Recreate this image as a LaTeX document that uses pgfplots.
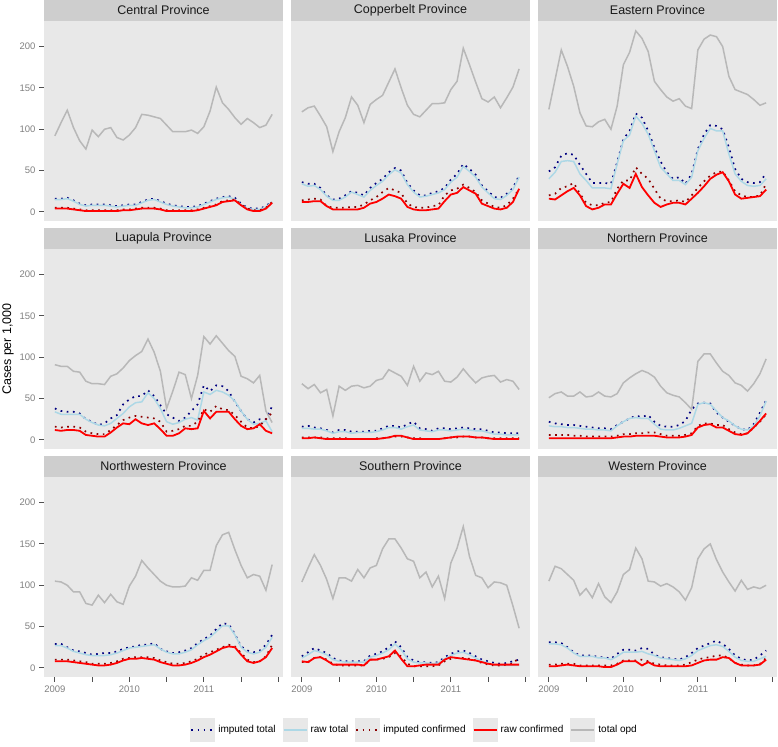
\documentclass[border=0pt]{standalone}
\usepackage{pgfplots}
\usepackage{pgfplotstable}
\pgfplotsset{compat=1.18}
\usepackage{fontspec}
\setmainfont{Liberation Sans}
\definecolor{panelbg}{RGB}{232,232,232}
\definecolor{stripbg}{RGB}{206,206,206}
\definecolor{tickc}{RGB}{80,80,80}
\definecolor{ticklab}{RGB}{128,128,128}
\definecolor{navyc}{RGB}{0,0,128}
\definecolor{lblue}{RGB}{173,216,230}
\definecolor{dred}{RGB}{139,0,0}
\definecolor{opdc}{RGB}{184,184,184}

\pgfplotstableread[col sep=comma,header=false]{
it,16,16,17,14,10,8,9,9,9,8,7,8,9,9,12,15,16,13,10,8,7,6,6,7,10,13,16,18,19,17,10,5,4,4,7,13
rt,15,15,16,13,9,7,8,8,8,7,6,7,8,8,11,14,15,12,9,7,6,5,5,6,9,12,15,17,18,15,9,4,3,3,6,12
ic,5,5,5,4,3,2,2,2,2,2,2,3,3,4,5,5,5,4,2,2,2,2,2,3,5,7,9,13,14,15,9,4,2,2,5,12
rc,4,4,4,3,2,1,1,1,1,1,1,2,2,3,4,4,4,3,1,1,1,1,1,2,4,6,8,12,13,14,8,3,1,1,4,11
opd,92,108,123,102,86,76,99,91,100,102,90,87,93,102,118,117,115,113,105,97,97,97,99,95,103,122,151,132,124,114,106,113,108,102,105,118
}\rCentral
\pgfplotstableread[col sep=comma,header=false]{
it,36,34,34,29,20,15,16,20,25,23,20,29,35,40,48,53,50,35,26,20,20,23,25,29,39,46,58,52,45,32,25,18,17,22,29,44
rt,34,31,32,27,19,14,14,18,24,21,18,26,32,37,45,51,47,33,24,18,19,21,23,27,36,42,55,49,42,30,23,16,15,20,27,42
ic,14,15,16,15,7,5,5,5,6,6,9,14,18,24,29,26,23,10,6,5,5,7,8,20,26,28,33,29,24,14,10,6,5,8,16,28
rc,12,12,13,13,7,3,3,3,3,3,5,10,12,16,21,19,16,6,3,2,2,3,4,13,21,23,30,26,22,10,7,4,3,5,12,28
opd,121,126,128,116,103,73,97,114,139,129,108,130,136,141,157,173,150,129,118,115,123,131,131,132,148,158,198,178,157,137,133,139,126,138,151,173
}\rCopper
\pgfplotstableread[col sep=comma,header=false]{
it,49,54,68,71,69,57,46,35,35,35,34,60,88,98,119,114,98,78,61,48,40,42,34,46,76,94,105,104,100,78,52,40,36,35,36,47
rt,40,48,61,62,61,46,38,29,29,29,28,58,86,93,116,107,94,74,54,46,38,38,33,42,74,89,101,98,98,70,46,37,32,31,32,40
ic,20,22,29,31,35,22,11,8,8,11,12,28,38,38,54,46,40,28,16,13,13,14,12,20,29,37,44,48,49,38,25,20,18,18,20,34
rc,16,15,20,25,29,20,7,3,5,9,9,22,34,29,46,30,20,11,6,9,11,11,9,16,23,31,40,45,48,37,21,16,17,18,19,27
opd,124,160,196,176,152,120,104,103,109,112,100,128,178,193,219,210,194,158,148,139,134,137,128,125,196,209,214,212,200,164,148,145,142,136,129,132
}\rEastern
\pgfplotstableread[col sep=comma,header=false]{
it,38,35,34,34,32,25,22,18,20,26,30,43,49,53,53,60,53,42,31,27,23,27,35,43,66,59,66,65,59,46,35,25,21,25,25,41
rt,34,31,31,31,31,25,21,18,17,20,26,32,40,45,46,57,50,38,22,19,21,25,27,24,58,55,60,58,54,47,35,25,19,20,23,10
ic,16,15,16,16,15,10,8,7,7,12,18,24,27,29,28,27,26,22,10,11,13,17,17,22,37,34,41,37,36,30,22,15,14,17,25,33
rc,12,11,12,12,11,6,5,4,4,9,15,20,19,25,20,18,20,13,5,5,8,14,13,14,35,26,34,34,34,25,17,13,14,19,11,8
opd,91,89,89,83,82,71,68,68,67,77,80,87,96,102,107,122,106,83,38,59,82,79,50,78,125,116,126,117,108,101,77,74,69,78,35,21
}\rLuapula
\pgfplotstableread[col sep=comma,header=false]{
it,16,17,15,14,12,9,12,12,10,10,10,11,11,14,17,17,15,19,22,14,13,11,14,14,13,14,15,14,13,13,11,9,9,8,8,8
rt,14,14,13,13,11,8,10,10,8,9,9,9,10,12,15,15,13,16,18,12,11,10,12,12,11,12,13,12,11,11,9,7,7,6,6,6
ic,3,3,3,3,2,2,2,2,1,1,1,1,2,2,3,4,4,3,2,2,1,1,1,2,3,3,4,4,3,3,2,2,2,2,2,2
rc,2,2,3,2,1,1,1,1,1,1,1,1,1,2,3,5,5,3,1,1,1,1,1,2,3,4,4,4,3,3,2,1,1,1,1,1
opd,68,62,67,57,61,29,65,60,65,66,63,65,72,74,85,81,77,66,89,71,81,79,83,71,70,76,86,77,69,75,77,78,70,73,71,61
}\rLusaka
\pgfplotstableread[col sep=comma,header=false]{
it,22,20,19,18,18,17,16,15,14,14,13,18,22,26,29,28,30,22,17,16,16,18,23,37,44,45,44,33,27,22,17,13,12,19,33,48
rt,17,16,16,15,15,14,13,13,12,12,11,17,22,26,27,26,26,19,13,12,12,14,17,20,43,45,43,35,27,23,17,13,12,17,29,47
ic,6,6,6,6,5,5,4,4,4,4,4,5,7,7,8,8,9,9,7,5,5,5,6,8,17,20,20,18,18,13,9,7,8,15,22,31
rc,2,2,2,2,2,2,2,2,2,2,2,3,4,4,5,5,5,5,4,3,3,3,4,6,15,18,19,15,15,11,7,6,8,15,23,32
opd,51,56,58,53,53,58,52,53,58,53,52,56,69,75,80,84,81,76,65,57,54,52,45,37,95,104,104,93,83,78,69,66,59,68,80,98
}\rNorthern
\pgfplotstableread[col sep=comma,header=false]{
it,29,29,25,21,20,18,16,17,18,18,20,23,25,26,28,28,30,23,20,18,19,21,24,30,35,39,47,54,53,41,26,21,19,21,28,40
rt,27,27,24,20,18,16,15,15,15,16,18,21,24,25,26,27,28,23,19,17,17,19,22,28,33,37,44,51,51,40,25,19,17,19,25,37
ic,10,10,10,9,8,7,5,5,5,6,8,11,12,13,13,13,12,9,7,5,5,6,8,11,16,19,22,25,28,26,18,10,7,8,14,28
rc,8,8,8,7,6,5,4,3,3,4,6,9,11,11,12,11,10,7,5,3,3,4,6,9,13,16,20,24,26,25,16,8,6,8,13,24
opd,105,104,100,92,92,78,76,88,79,89,80,77,99,111,130,121,113,105,100,98,98,99,109,106,118,118,148,161,164,143,124,109,113,111,94,125
}\rNorthwestern
\pgfplotstableread[col sep=comma,header=false]{
it,14,19,24,21,18,12,9,8,8,8,8,15,17,20,25,32,25,13,9,7,7,6,7,13,17,20,21,18,14,10,8,6,5,6,8,10
rt,12,16,21,19,16,10,8,7,7,7,7,13,15,18,22,29,22,11,7,6,6,5,6,11,15,18,19,16,12,8,6,4,3,3,3,3
ic,7,7,12,13,10,5,3,3,3,3,3,10,10,11,13,18,14,5,2,2,2,2,3,8,11,12,12,11,9,6,4,3,3,4,5,13
rc,8,7,12,13,9,4,4,4,4,4,3,10,10,12,14,21,11,2,2,3,4,4,4,10,13,12,11,10,9,7,5,4,4,4,4,4
opd,104,121,137,124,107,84,109,109,105,119,109,121,124,144,156,156,145,132,129,109,116,98,111,84,127,145,171,135,112,109,97,104,103,100,75,48
}\rSouthern
\pgfplotstableread[col sep=comma,header=false]{
it,31,31,30,25,19,15,15,15,13,13,11,17,22,22,21,24,23,16,13,12,11,10,13,18,24,27,30,33,29,23,15,11,9,10,15,21
rt,29,29,28,24,18,14,14,14,12,12,10,14,19,19,19,20,17,15,12,11,10,9,11,15,21,24,27,28,26,20,13,9,8,8,11,14
ic,4,4,5,5,5,3,3,3,3,3,3,5,9,9,9,10,8,5,4,3,3,3,4,7,10,12,13,15,15,12,6,4,3,3,5,12
rc,2,2,3,4,3,2,2,2,2,1,1,4,8,8,8,3,7,3,2,2,2,2,2,3,6,9,10,10,13,12,6,3,3,3,4,10
opd,105,123,120,113,106,88,96,85,102,86,79,92,113,119,145,132,105,104,99,102,98,92,82,97,132,144,150,131,116,104,93,106,95,98,96,100
}\rWestern

\pgfplotstabletranspose[colnames from=0]\tCentral\rCentral
\pgfplotstabletranspose[colnames from=0]\tCopper\rCopper
\pgfplotstabletranspose[colnames from=0]\tEastern\rEastern
\pgfplotstabletranspose[colnames from=0]\tLuapula\rLuapula
\pgfplotstabletranspose[colnames from=0]\tLusaka\rLusaka
\pgfplotstabletranspose[colnames from=0]\tNorthern\rNorthern
\pgfplotstabletranspose[colnames from=0]\tNorthwestern\rNorthwestern
\pgfplotstabletranspose[colnames from=0]\tSouthern\rSouthern
\pgfplotstabletranspose[colnames from=0]\tWestern\rWestern

\pgfplotsset{
  itS/.style={color=navyc, line width=1.7pt, dash pattern=on 1.7pt off 4.5pt},
  rtS/.style={color=lblue, line width=1.5pt},
  icS/.style={color=dred, line width=1.7pt, dash pattern=on 1.7pt off 4.5pt},
  rcS/.style={color=red, line width=1.8pt},
  opdS/.style={color=opdc, line width=1.5pt},
  panel/.style={
    width=239pt, height=200pt, scale only axis, anchor=south west,
    xmin=-1.75, xmax=36.75, ymin=-11, ymax=231,
    axis background/.style={fill=panelbg},
    axis x line*=bottom, axis y line*=left, axis line style={draw=none},
    tick align=outside, major tick length=5pt,
    every tick/.style={color=tickc, line width=0.9pt},
    xtick={0,6,...,36}, xticklabels={2009,,2010,,2011,,},
    ytick={0,50,100,150,200},
    /pgf/number format/assume math mode=true,
    ticklabel style={font=\fontsize{9.5}{11}\selectfont, text=ticklab},
    every axis title shift=0pt,
    title style={at={(0.5,1)}, anchor=south, fill=stripbg, minimum width=239pt,
      minimum height=21pt, inner sep=0pt, yshift=0pt, text=black!90,
      font=\fontsize{12.5}{14}\selectfont},
    legend image code/.code={\fill[panelbg, draw=none, solid] (0pt,-12pt) rectangle (25pt,12pt);
      \draw[##1] (1pt,0pt) -- (24pt,0pt);},
    clip=true,
  },
  noX/.style={xtick=\empty},
  noY/.style={ytick=\empty},
}

\newcommand\panel[4]{%
\begin{axis}[panel, at={(#1)}, title={#2}, #4]
\addplot[itS] table[x expr=\coordindex, y=it]{#3};
\addplot[rtS] table[x expr=\coordindex, y=rt]{#3};
\addplot[icS] table[x expr=\coordindex, y=ic]{#3};
\addplot[rcS] table[x expr=\coordindex, y=rc]{#3};
\addplot[opdS] table[x expr=\coordindex, y=opd]{#3};
\end{axis}}

\begin{document}
\begin{tikzpicture}
\path[use as bounding box] (0pt,0pt) rectangle (778pt,746pt);
\panel{44pt,525pt}{Central Province}{\tCentral}{noX}
\panel{291pt,525pt}{Copperbelt Province}{\tCopper}{noX,noY}
\panel{538pt,525pt}{Eastern Province}{\tEastern}{noX,noY}
\panel{44pt,297pt}{Luapula Province}{\tLuapula}{noX}
\panel{291pt,297pt}{Lusaka Province}{\tLusaka}{noX,noY}
\panel{538pt,297pt}{Northern Province}{\tNorthern}{noX,noY}
\panel{44pt,69pt}{Northwestern Province}{\tNorthwestern}{}
\panel{291pt,69pt}{Southern Province}{\tSouthern}{noY,
  legend entries={imputed total,raw total,imputed confirmed,raw confirmed,total opd},
  legend style={at={(0.519,-0.265)}, anchor=center, draw=none, fill=none,
    legend columns=5, font=\fontsize{10}{12}\selectfont,
    /tikz/every even column/.append style={column sep=4pt},
    nodes={inner xsep=3pt}}}
\panel{538pt,69pt}{Western Province}{\tWestern}{noY}
\node[rotate=90, font=\fontsize{12.5}{14}\selectfont] at (8pt,397pt) {Cases per 1,000};
\end{tikzpicture}
\end{document}
